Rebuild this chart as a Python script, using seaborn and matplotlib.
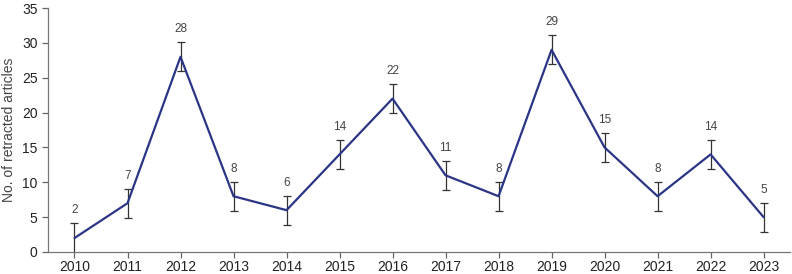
import matplotlib
matplotlib.use("Agg")
import matplotlib.pyplot as plt
import seaborn as sns
import pandas as pd

years = [2010, 2011, 2012, 2013, 2014, 2015, 2016, 2017, 2018, 2019, 2020, 2021, 2022, 2023]
counts = [2, 7, 28, 8, 6, 14, 22, 11, 8, 29, 15, 8, 14, 5]
errors = [2.1, 2.1, 2.1, 2.1, 2.1, 2.1, 2.1, 2.1, 2.1, 2.1, 2.1, 2.1, 2.1, 2.1]

sns.set_theme(style="ticks")
plt.rcParams['font.family'] = ['Liberation Sans', 'DejaVu Sans']

df = pd.DataFrame({"pos": range(len(years)), "year": years, "count": counts, "err": errors})

fig = plt.figure(figsize=(7.92, 2.74), dpi=100)
ax = fig.add_axes([0.0606, 0.0803, 0.937, 0.8905])

line_color = "#2a3586"
text_color = "#444444"

ax.errorbar(df["pos"], df["count"], yerr=df["err"], fmt="none", ecolor="#333333",
            elinewidth=0.9, capsize=3, capthick=0.9, zorder=2)
sns.lineplot(data=df, x="pos", y="count", color=line_color, linewidth=1.6, ax=ax, zorder=3)

for p, c, e in zip(df["pos"], df["count"], df["err"]):
    ax.text(p, c + e + 1.0, str(c), ha="center", va="bottom", fontsize=8.5, color=text_color)

ax.set_xlim(-0.5, 13.5)
ax.set_ylim(0, 35)
ax.set_yticks(range(0, 36, 5))
ax.set_xticks(df["pos"])
ax.set_xticklabels([str(y) for y in years])
ax.set_xlabel("")
ax.set_ylabel("No. of retracted articles", fontsize=10, color=text_color, labelpad=4)
ax.tick_params(axis="both", labelsize=10, colors="#666666", labelcolor="#222222",
               length=4, width=0.9, direction="out")
ax.tick_params(axis="x", pad=1.5)
for s in ["top", "right"]:
    ax.spines[s].set_visible(False)
for s in ["left", "bottom"]:
    ax.spines[s].set_color("#777777")
    ax.spines[s].set_linewidth(0.9)

fig.savefig("out.png", dpi=100)
